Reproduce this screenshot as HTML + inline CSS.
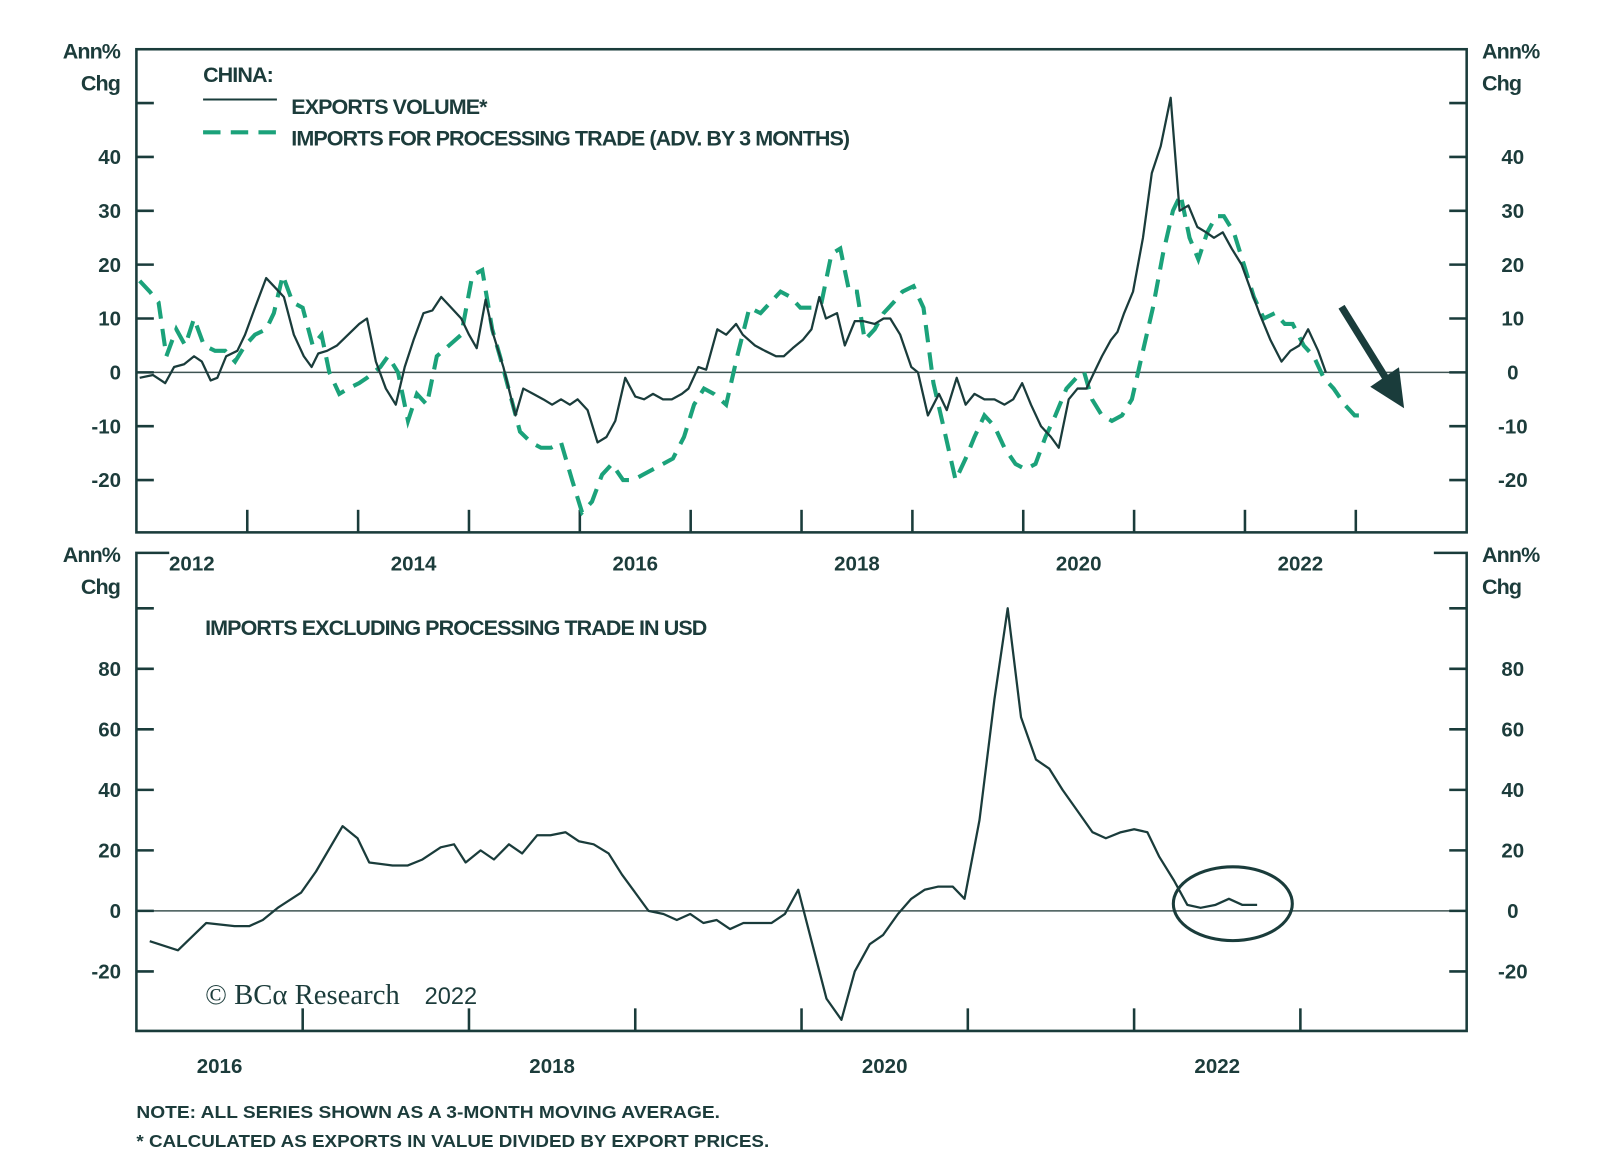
<!DOCTYPE html>
<html><head><meta charset="utf-8"><style>
html,body{margin:0;padding:0;background:#fff}
svg{display:block}
text{font-family:"Liberation Sans",sans-serif;fill:#1c3c3b}
.tk{font-size:20px;font-weight:bold}
.lg{font-size:21px;letter-spacing:-0.9px;font-weight:600}
.nt{font-size:17px;font-weight:600}
</style></head><body>
<svg id="chart" width="1600" height="1154" viewBox="0 0 1560 1125" preserveAspectRatio="none" xmlns="http://www.w3.org/2000/svg"></svg>
<script>
// ---- data ----
const expDates=[2012.03,2012.15,2012.26,2012.34,2012.43,2012.52,2012.59,2012.67,2012.73,2012.81,2012.91,2012.98,2013.07,2013.17,2013.24,2013.33,2013.42,2013.51,2013.58,2013.64,2013.72,2013.81,2013.91,2014.01,2014.08,2014.16,2014.25,2014.34,2014.42,2014.50,2014.59,2014.67,2014.75,2014.84,2014.93,2015.00,2015.07,2015.15,2015.22,2015.31,2015.42,2015.49,2015.58,2015.67,2015.75,2015.83,2015.91,2015.98,2016.07,2016.16,2016.24,2016.32,2016.41,2016.50,2016.58,2016.66,2016.75,2016.83,2016.92,2016.98,2017.07,2017.14,2017.24,2017.32,2017.41,2017.47,2017.58,2017.67,2017.77,2017.84,2017.92,2018.01,2018.09,2018.16,2018.22,2018.32,2018.39,2018.48,2018.56,2018.66,2018.74,2018.80,2018.89,2018.99,2019.05,2019.14,2019.24,2019.31,2019.40,2019.48,2019.56,2019.65,2019.74,2019.83,2019.91,2019.99,2020.07,2020.16,2020.25,2020.32,2020.41,2020.49,2020.57,2020.64,2020.71,2020.79,2020.85,2020.91,2020.99,2021.08,2021.16,2021.24,2021.33,2021.41,2021.49,2021.57,2021.65,2021.72,2021.80,2021.88,2021.97,2022.04,2022.13,2022.23,2022.33,2022.41,2022.49,2022.57,2022.66,2022.73];
const expValues=[-1,-0.5,-2,1,1.5,3,2,-1.5,-1,3,4,7,12,17.5,16,14,7,3,1,3.5,4,5,7,9,10,2,-3,-6,1,6,11,11.5,14,12,10,7,4.5,13.5,7,1,-8,-3,-4,-5,-6,-5,-6,-5,-7,-13,-12,-9,-1,-4.5,-5,-4,-5,-5,-4,-3,1,0.5,8,7,9,7,5,4,3,3,4.5,6,8,14,10,11,5,9.5,9.5,9,10,10,7,1,0,-8,-4,-7,-1,-6,-4,-5,-5,-6,-5,-2,-6,-10,-12,-14,-5,-3,-3,0,3,6,7.5,11,15,25,37,42,51,30,31,27,26,25,26,23,20,16,11,6,2,4,5,8,4,0];
const impDates=[2012.03,2012.12,2012.20,2012.27,2012.36,2012.44,2012.52,2012.61,2012.71,2012.80,2012.89,2012.98,2013.07,2013.17,2013.24,2013.32,2013.41,2013.50,2013.59,2013.67,2013.74,2013.83,2013.91,2014.01,2014.08,2014.20,2014.27,2014.36,2014.45,2014.53,2014.62,2014.71,2014.82,2014.93,2015.03,2015.12,2015.21,2015.28,2015.37,2015.46,2015.56,2015.65,2015.74,2015.83,2015.93,2016.02,2016.11,2016.20,2016.29,2016.39,2016.48,2016.57,2016.66,2016.75,2016.84,2016.94,2017.03,2017.12,2017.21,2017.32,2017.42,2017.53,2017.63,2017.72,2017.81,2017.90,2017.99,2018.09,2018.18,2018.27,2018.35,2018.43,2018.50,2018.57,2018.66,2018.74,2018.83,2018.91,2019.01,2019.10,2019.19,2019.28,2019.39,2019.48,2019.56,2019.65,2019.74,2019.83,2019.93,2020.02,2020.11,2020.20,2020.29,2020.39,2020.48,2020.55,2020.62,2020.71,2020.80,2020.89,2020.98,2021.08,2021.17,2021.26,2021.35,2021.42,2021.50,2021.58,2021.66,2021.74,2021.81,2021.90,2021.99,2022.08,2022.17,2022.27,2022.36,2022.43,2022.53,2022.62,2022.71,2022.80,2022.90,2022.99,2023.08];
const impValues=[17,15,13,3,8,5,10,5,4,4,2,5,7,8,11,18,13,12,5,7,0,-4,-3,-2,-1,1,3,0,-9,-4,-6,3,5,7,18,19,8,3,-4,-11,-13,-14,-14,-13,-20,-26,-24,-19,-17,-20,-20,-19,-18,-17,-16,-12,-6,-3,-4,-6,3,12,11,13,15,14,12,12,13,22,23,15,15,6,8,11,13,15,16,12,-2,-10,-20,-16,-12,-8,-10,-14,-17,-18,-17,-12,-8,-3,-1,0,-5,-8,-9,-8,-5,4,12,22,30,33,25,21,26,29,29,26,20,14,10,11,9,9,5,3,-1,-3,-6,-8,-8];
const exclDates=[2016.08,2016.25,2016.42,2016.59,2016.68,2016.76,2016.85,2016.99,2017.08,2017.24,2017.33,2017.40,2017.54,2017.63,2017.72,2017.83,2017.91,2017.98,2018.07,2018.15,2018.24,2018.32,2018.41,2018.49,2018.58,2018.66,2018.75,2018.84,2018.92,2019.00,2019.08,2019.17,2019.25,2019.33,2019.41,2019.49,2019.57,2019.65,2019.82,2019.90,2019.98,2020.07,2020.15,2020.24,2020.32,2020.41,2020.49,2020.58,2020.66,2020.74,2020.82,2020.91,2020.98,2021.07,2021.16,2021.24,2021.32,2021.41,2021.49,2021.57,2021.66,2021.75,2021.83,2021.92,2022.00,2022.08,2022.15,2022.24,2022.32,2022.40,2022.49,2022.57,2022.65,2022.74];
const exclValues=[-10,-13,-4,-5,-5,-3,1,6,13,28,24,16,15,15,17,21,22,16,20,17,22,19,25,25,26,23,22,19,12,6,0,-1,-3,-1,-4,-3,-6,-4,-4,-1,7,-12,-29,-36,-20,-11,-8,-1,4,7,8,8,4,30,70,100,64,50,47,40,33,26,24,26,27,26,18,10,2,1,2,4,2,2];
const topYTicks=[50,40,30,20,10,0,-10,-20];
const topYLabels=["","40","30","20","10","0","-10","-20"];
const botYTicks=[100,80,60,40,20,0,-20];
const botYLabels=["","80","60","40","20","0","-20"];
const topYears=[2012,2014,2016,2018,2020,2022];
const botYears=[2016,2018,2020,2022];

// ---- scales ----
const DARK="#1a3c3b", GREEN="#1ba27a";
const T={l:133,r:1430,t:48,b:519,x0:2012,x1:2024};
const B={l:133,r:1430,t:539,b:1005,x0:2016,x1:2024};
const tx=d=>T.l+(d-T.x0)/(T.x1-T.x0)*(T.r-T.l);
const ty=v=>363-v*5.25;
const bx=d=>B.l+(d-B.x0)/(B.x1-B.x0)*(B.r-B.l);
const by=v=>888-v*2.95;

const svg=document.getElementById('chart');
const NS="http://www.w3.org/2000/svg";
function mk(tag,attrs,parent){const e=document.createElementNS(NS,tag);for(const k in attrs)e.setAttribute(k,attrs[k]);(parent||svg).appendChild(e);return e;}
function txt(s,x,y,cls,anchor,parent){const e=mk('text',{x:x,y:y,class:cls,'text-anchor':anchor||'start'},parent);e.textContent=s;return e;}

// ---- top panel ----
const gt=mk('g',{});


const tb=mk('rect',{x:T.l,y:T.t,width:T.r-T.l,height:T.b-T.t,fill:'none',stroke:DARK,'stroke-width':2.5},gt);


const z1=mk('line',{x1:T.l,x2:T.r,y1:ty(0),y2:ty(0),stroke:'#3f5453','stroke-width':1.5},gt);


topYTicks.forEach((v,i)=>{
  mk('line',{x1:T.l,x2:T.l+17,y1:ty(v),y2:ty(v),stroke:DARK,'stroke-width':2.5},gt);
  mk('line',{x1:T.r-17,x2:T.r,y1:ty(v),y2:ty(v),stroke:DARK,'stroke-width':2.5},gt);
  if(topYLabels[i]){
    const a=txt(topYLabels[i],118,ty(v)+7,'tk','end',gt);
    
    
    const b=txt(topYLabels[i],1475,ty(v)+7,'tk','middle',gt);
    
    
  }
});
for(let y=T.x0+1;y<T.x1;y++){mk('line',{x1:tx(y),x2:tx(y),y1:T.b-22,y2:T.b,stroke:DARK,'stroke-width':2.5},gt);}
topYears.forEach(y=>{const e=txt(String(y),tx(y+0.5),556,'tk','middle',gt);
  
  });
function pathOf(ds,vs,fx,fy){return ds.map((d,i)=>(i?'L':'M')+fx(d).toFixed(1)+' '+fy(vs[i]).toFixed(1)).join(' ');}
const imp=mk('path',{d:pathOf(impDates,impValues,tx,ty),fill:'none',stroke:GREEN,'stroke-width':4,'stroke-dasharray':'17 10'},gt);


const exp=mk('path',{d:pathOf(expDates,expValues,tx,ty),fill:'none',stroke:DARK,'stroke-width':2.2,'stroke-linejoin':'round'},gt);


// legend
const lg=mk('g',{},gt);


txt('CHINA:',198,80,'lg','start',lg);
mk('line',{x1:198,x2:270,y1:97,y2:97,stroke:DARK,'stroke-width':2},lg);
txt('EXPORTS VOLUME*',284,111,'lg','start',lg);
mk('line',{x1:198,x2:272,y1:129,y2:129,stroke:GREEN,'stroke-width':4,'stroke-dasharray':'17 10'},lg);
txt('IMPORTS FOR PROCESSING TRADE (ADV. BY 3 MONTHS)',284,142,'lg','start',lg);
// arrow
const ar=mk('g',{},gt);


mk('line',{x1:1308,y1:299,x2:1352,y2:370,stroke:DARK,'stroke-width':7},ar);
mk('polygon',{points:'1369,398 1336,377 1364,358',fill:DARK},ar);
// unit labels
['Ann%','Chg'].forEach((s,i)=>{txt(s,117,57+31*i,'lg','end',gt);txt(s,1445,57+31*i,'lg','start',gt);});

// ---- bottom panel ----
const gb=mk('g',{});


mk('path',{d:`M${B.l+32} ${B.t} H${B.l} V${B.b} H${B.r} V${B.t} H${B.r-32}`,fill:'none',stroke:DARK,'stroke-width':2.5},gb);
const z2=mk('line',{x1:B.l,x2:B.r,y1:by(0),y2:by(0),stroke:'#3f5453','stroke-width':1.5},gb);


botYTicks.forEach((v,i)=>{
  mk('line',{x1:B.l,x2:B.l+17,y1:by(v),y2:by(v),stroke:DARK,'stroke-width':2.5},gb);
  mk('line',{x1:B.r-17,x2:B.r,y1:by(v),y2:by(v),stroke:DARK,'stroke-width':2.5},gb);
  if(botYLabels[i]){
    const a=txt(botYLabels[i],118,by(v)+7,'tk','end',gb);
    
    
    const b=txt(botYLabels[i],1475,by(v)+7,'tk','middle',gb);
    
    
  }
});
for(let y=B.x0+1;y<B.x1;y++){mk('line',{x1:bx(y),x2:bx(y),y1:B.b-22,y2:B.b,stroke:DARK,'stroke-width':2.5},gb);}
botYears.forEach(y=>{const e=txt(String(y),bx(y+0.5),1046,'tk','middle',gb);
  
  });
const ex=mk('path',{d:pathOf(exclDates,exclValues,bx,by),fill:'none',stroke:DARK,'stroke-width':2.2,'stroke-linejoin':'round'},gb);


const el=mk('ellipse',{cx:1202,cy:881,rx:58,ry:36,fill:'none',stroke:DARK,'stroke-width':3},gb);


const bt=txt('IMPORTS EXCLUDING PROCESSING TRADE IN USD',200,619,'lg','start',gb);


['Ann%','Chg'].forEach((s,i)=>{txt(s,117,548+31*i,'lg','end',gb);txt(s,1445,548+31*i,'lg','start',gb);});
const cp=mk('text',{x:200,y:979,'font-size':28,style:'font-family:"Liberation Serif",serif'},gb);
cp.textContent='© BCα Research';


const cp2=mk('text',{x:414,y:979,'font-size':23},gb);
cp2.textContent='2022';


// notes
const n1=txt('NOTE: ALL SERIES SHOWN AS A 3-MONTH MOVING AVERAGE.',133,1090,'nt','start');
n1.setAttribute('textLength','569');
n1.setAttribute('lengthAdjust','spacingAndGlyphs');


const n2=txt('* CALCULATED AS EXPORTS IN VALUE DIVIDED BY EXPORT PRICES.',133,1118,'nt','start');
n2.setAttribute('textLength','617');
n2.setAttribute('lengthAdjust','spacingAndGlyphs');


</script>
</body></html>
